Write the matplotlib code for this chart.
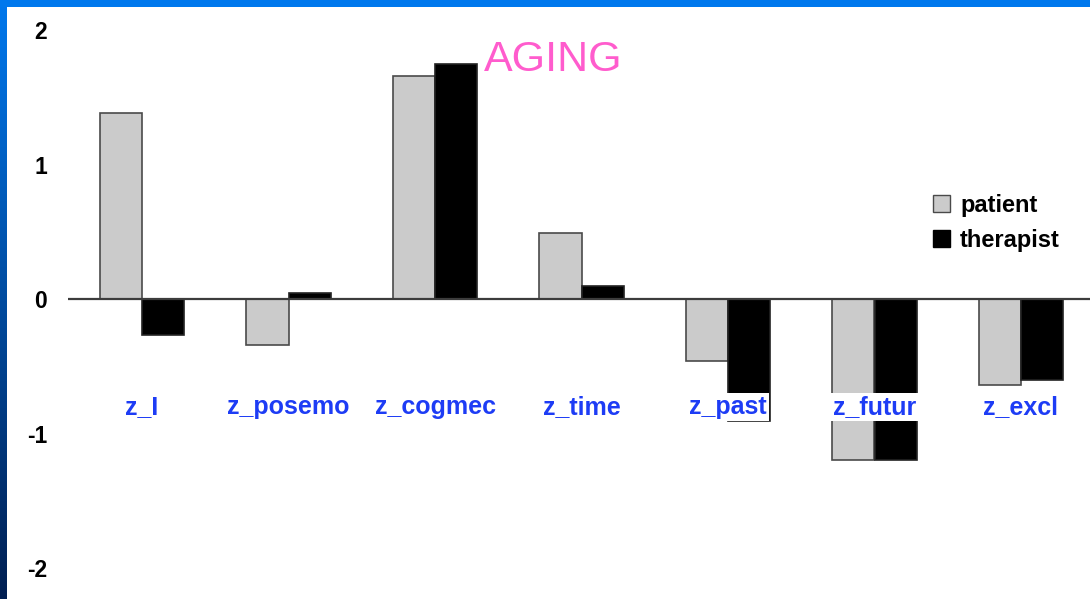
import numpy as np
import matplotlib
matplotlib.use("Agg")
from matplotlib import pyplot as plt
from matplotlib.patches import Patch

plt.rcParams['font.family'] = ['Liberation Sans', 'DejaVu Sans']

categories = ["z_I", "z_posemo", "z_cogmec", "z_time", "z_past", "z_futur", "z_excl"]
patient = [1.38, -0.34, 1.66, 0.49, -0.46, -1.20, -0.64]
therapist = [-0.27, 0.045, 1.75, 0.10, -0.91, -1.20, -0.60]
yticks = [2, 1, 0, -1, -2]

W, H = 1090, 599
fig = plt.figure(figsize=(W / 100, H / 100), dpi=100)

# blue frame on top and left
bg = fig.add_axes([0, 0, 1, 1])
bg.set_axis_off()
grad = np.linspace(0, 1, 256)[:, None]
top_col = np.array([0, 0.47, 0.93])
bot_col = np.array([0.0, 0.12, 0.32])
img = (1 - grad)[:, :, None] * top_col + grad[:, :, None] * bot_col
bg.imshow(img, extent=[0, 7, 0, H], aspect='auto', zorder=0)
bg.fill_between([0, W], H - 7, H, color=top_col, zorder=0, lw=0)
bg.set_xlim(0, W)
bg.set_ylim(0, H)

# main axes, zero at y=299px, 134.5 px per unit
x_left, x_right = 68, 1090
ax = fig.add_axes([x_left / W, (H - (299 + 2.2 * 134.5)) / H,
                   (x_right - x_left) / W, 4.4 * 134.5 / H])
ax.patch.set_alpha(0)
x = np.arange(len(categories))
bw = 0.287
ax.bar(x - bw / 2, patient, bw, color='#cbcbcb', edgecolor='#4a4a4a', lw=1.2, zorder=2)
ax.bar(x + bw / 2, therapist, bw, color='black', edgecolor='#222222', lw=1.2, zorder=2)
ax.axhline(0, color='#3c3c3c', lw=1.6, zorder=3)

ax.set_xlim((x_left - 142) / 146.5, (x_right - 142) / 146.5)
ax.set_ylim(-2.2, 2.2)
ax.set_xticks([])
ax.set_yticks(yticks)
ax.set_yticklabels([str(t) for t in yticks], fontsize=16.5, fontweight='bold')
ax.tick_params(axis='y', length=0, pad=15)
for s in ax.spines.values():
    s.set_visible(False)

for i, c in enumerate(categories):
    ax.text(i, -0.80, c, ha='center', va='center', fontsize=18, fontweight='bold',
            color='#1d3cf5', zorder=4,
            bbox=dict(facecolor='white', edgecolor='none', pad=1.5))

fig.text(553 / W, 1 - 60 / H, "AGING", ha='center', va='center',
         fontsize=31, color='#ff5ccd')

handles = [Patch(facecolor='#cbcbcb', edgecolor='#4a4a4a'),
           Patch(facecolor='black', edgecolor='black')]
fig.legend(handles, ["patient", "therapist"], loc='upper left',
           bbox_to_anchor=(933 / W, 1 - 194 / H), frameon=False,
           prop=dict(size=17, weight='bold'), handlelength=0.7, handleheight=0.7,
           handletextpad=0.45, labelspacing=0.5, borderaxespad=0, borderpad=0)

fig.savefig("out.png", dpi=100)
